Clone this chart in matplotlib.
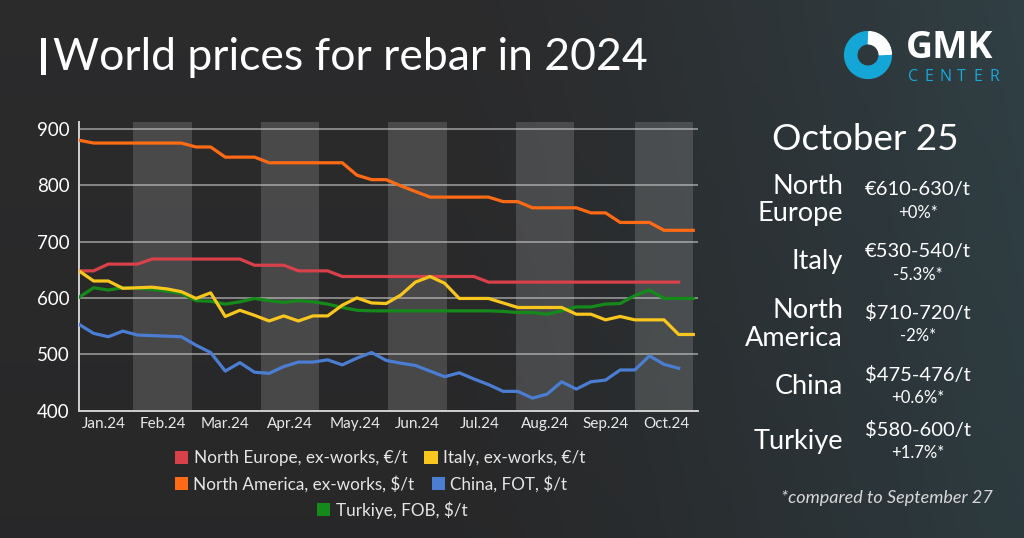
import matplotlib
matplotlib.use("Agg")
import matplotlib.pyplot as plt
from matplotlib.patches import Patch, Wedge, Rectangle
import numpy as np
import pandas as pd

plt.rcParams['font.family'] = ['Lato', 'DejaVu Sans']

# weekly quotes, Fridays
weeks = pd.date_range("2024-01-05", "2024-10-25", freq="7D")

north_europe = [648, 648, 660, 660, 660, 669, 669, 669, 669, 669, 669, 669,
                658, 658, 658, 648, 648, 648, 638, 638, 638, 638, 638, 638,
                638, 638, 638, 638, 628, 628, 628, 628, 628, 628, 628, 628,
                628, 628, 628, 628, 628, 628]
italy = [648, 630, 630, 617, 618, 619, 616, 611, 599, 609,
         567, 578, 569, 559, 568, 559, 568, 568, 587, 600,
         591, 590, 605, 628, 638, 626, 599, 599, 599, 591,
         583, 583, 583, 583, 571, 571, 561, 567, 561, 561,
         561, 535, 535]
north_america = [880, 875, 875, 875, 875, 875, 875, 875, 868, 868,
                 850, 850, 850, 840, 840, 840, 840, 840, 840, 818,
                 810, 810, 799, 789, 779, 779, 779, 779, 779, 771,
                 771, 760, 760, 760, 760, 751, 751, 734, 734, 734,
                 720, 720, 720]
china = [553, 537, 531, 541, 534, 533, 532, 531, 516, 503,
         470, 485, 468, 466, 478, 486, 486, 490, 481, 493,
         503, 489, 484, 480, 470, 460, 467, 456, 446, 434,
         434, 422, 429, 451, 438, 451, 454, 472, 472, 497,
         482, 475]
turkiye = [601, 618, 614, 618, 617, 615, 612, 608, 595, 594,
           589, 593, 599, 595, 592, 595, 593, 589, 583, 578,
           577, 577, 577, 577, 577, 577, 577, 577, 577, 576,
           574, 574, 571, 577, 584, 584, 589, 590, 604, 614,
           599, 599, 599]

month_labels = ["Jan.24", "Feb.24", "Mar.24", "Apr.24", "May.24",
                "Jun.24", "Jul.24", "Aug.24", "Sep.24", "Oct.24"]
month_ticks = pd.to_datetime(["2024-01-17", "2024-02-14", "2024-03-15", "2024-04-15",
                              "2024-05-16", "2024-06-15", "2024-07-15", "2024-08-15",
                              "2024-09-13", "2024-10-12"])
band_starts = pd.to_datetime(["2024-01-31", "2024-04-01", "2024-06-01",
                              "2024-08-01", "2024-09-27"])

regions = ["North\nEurope", "Italy", "North\nAmerica", "China", "Turkiye"]
prices = ["€610-630/t", "€530-540/t", "$710-720/t", "$475-476/t", "$580-600/t"]
changes = ["+0%*", "-5.3%*", "-2%*", "+0.6%*", "+1.7%*"]

c_red = '#d8404a'
c_yellow = '#f8c61c'
c_orange = '#ff6a14'
c_blue = '#4b7dd2'
c_green = '#16891b'

W, H = 1024, 538
fig = plt.figure(figsize=(W / 100, H / 100), dpi=100)


def fx(px):
    return px / W


def fy(py):
    return 1 - py / H


# background
bg = fig.add_axes([0, 0, 1, 1], zorder=-10)
gx = np.linspace(0, 1, 300)
gy = np.linspace(0, 1, 160)
X, Y = np.meshgrid(gx, gy)
t = np.clip((X - 0.45) / 0.55, 0, 1) ** 1.3
c0 = np.array([0.17, 0.17, 0.175])
c1 = np.array([0.19, 0.25, 0.27])
img = c0[None, None, :] * (1 - t[..., None]) + c1[None, None, :] * t[..., None]
img = img * (1 - 0.08 * Y[..., None])
bg.imshow(img, extent=[0, 1, 0, 1], aspect='auto', origin='upper')
bg.set_xlim(0, 1)
bg.set_ylim(0, 1)
bg.axis('off')

# chart
ax = fig.add_axes([fx(79), fy(410.5), fx(698 - 79), (410.5 - 122) / H])
ax.set_facecolor('none')
ax.set_xlim(weeks[0], pd.Timestamp("2024-10-27 06:00"))
ax.set_ylim(400, 912.4)

for s in band_starts:
    ax.axvspan(s, s + pd.Timedelta(days=28), color='white', alpha=0.15, lw=0, zorder=0)
for v in [500, 600, 700, 800, 900]:
    ax.axhline(v, color='#cfcfcf', lw=1.3, alpha=0.6, zorder=1)

ax.plot(weeks[:len(north_america)], north_america, color=c_orange, lw=2.3, zorder=3)
ax.plot(weeks[:len(turkiye)], turkiye, color=c_green, lw=2.3, zorder=3)
ax.plot(weeks[:len(north_europe)], north_europe, color=c_red, lw=2.3, zorder=4)
ax.plot(weeks[:len(italy)], italy, color=c_yellow, lw=2.3, zorder=5)
ax.plot(weeks[:len(china)], china, color=c_blue, lw=2.3, zorder=4)

for side in ['top', 'right']:
    ax.spines[side].set_visible(False)
for side in ['left', 'bottom']:
    ax.spines[side].set_color('#d0d0d0')
    ax.spines[side].set_linewidth(1.4)

ax.set_yticks([400, 500, 600, 700, 800, 900])
ax.set_xticks(month_ticks)
ax.set_xticklabels(month_labels)
ax.tick_params(axis='y', length=0, pad=7, labelsize=13.5, labelcolor='white')
ax.tick_params(axis='x', length=0, pad=5, labelsize=11, labelcolor='#e8e8e8')

# legend rows
leg_kw = dict(frameon=False, fontsize=12.3, labelcolor='#e6e6e6', handlelength=0.8,
              handleheight=0.8, handletextpad=0.3, columnspacing=1.0, loc='center')
rows = [
    ([c_red, c_yellow], ["North Europe, ex-works, €/t", "Italy, ex-works, €/t"], 380, 458),
    ([c_orange, c_blue], ["North America, ex-works, $/t", "China, FOT, $/t"], 371, 484),
    ([c_green], ["Turkiye, FOB, $/t"], 392, 510),
]
for cols, labs, lx, ly in rows:
    hs = [Patch(facecolor=c, edgecolor='none') for c in cols]
    fig.legend(hs, labs, ncol=len(hs), bbox_to_anchor=(fx(lx), fy(ly)), **leg_kw)

# title
fig.add_artist(Rectangle((fx(41), fy(75)), fx(5), (75 - 38) / H, transform=fig.transFigure,
                         color='white', lw=0))
fig.text(fx(53), fy(57), "World prices for rebar in 2024", color='white', fontsize=32,
         va='center', ha='left')

# logo
lax = fig.add_axes([fx(868 - 26), fy(55 + 26), fx(52), 52 / H])
lax.set_xlim(-1, 1)
lax.set_ylim(-1, 1)
lax.axis('off')
lax.add_patch(Wedge((0, 0), 0.9, 90, 360, width=0.47, color='#14a6d6'))
lax.add_patch(Wedge((0, 0), 0.9, 2, 88, width=0.47, color='white'))
fig.text(fx(906), fy(48), "GMK", color='white', fontsize=27, fontweight='bold',
         va='center', ha='left', family=['Open Sans', 'DejaVu Sans'])
for k, ch in enumerate("CENTER"):
    fig.text(fx(913 + k * 16.2), fy(77), ch, color='#18a8d8', fontsize=11.5,
             va='center', ha='center', family=['Open Sans', 'DejaVu Sans'])

# right panel
fig.text(fx(865), fy(140), "October 25", color='white', fontsize=26.5, ha='center', va='center')
label_y = [200, 262, 324, 387, 442]
price_y = [190, 252, 313, 375, 430]
for reg, pr, ch, ly, py in zip(regions, prices, changes, label_y, price_y):
    fig.text(fx(843), fy(ly), reg, color='white', fontsize=19.5, ha='right', va='center',
             linespacing=1.15)
    fig.text(fx(918), fy(py), pr, color='white', fontsize=14.5, ha='center', va='center')
    fig.text(fx(918), fy(py + 23), ch, color='white', fontsize=12, ha='center', va='center')
fig.text(fx(887), fy(498), "*compared to September 27", color='#d8d8d8', fontsize=13,
         style='italic', ha='center', va='center')

fig.savefig("out.png", dpi=100)
